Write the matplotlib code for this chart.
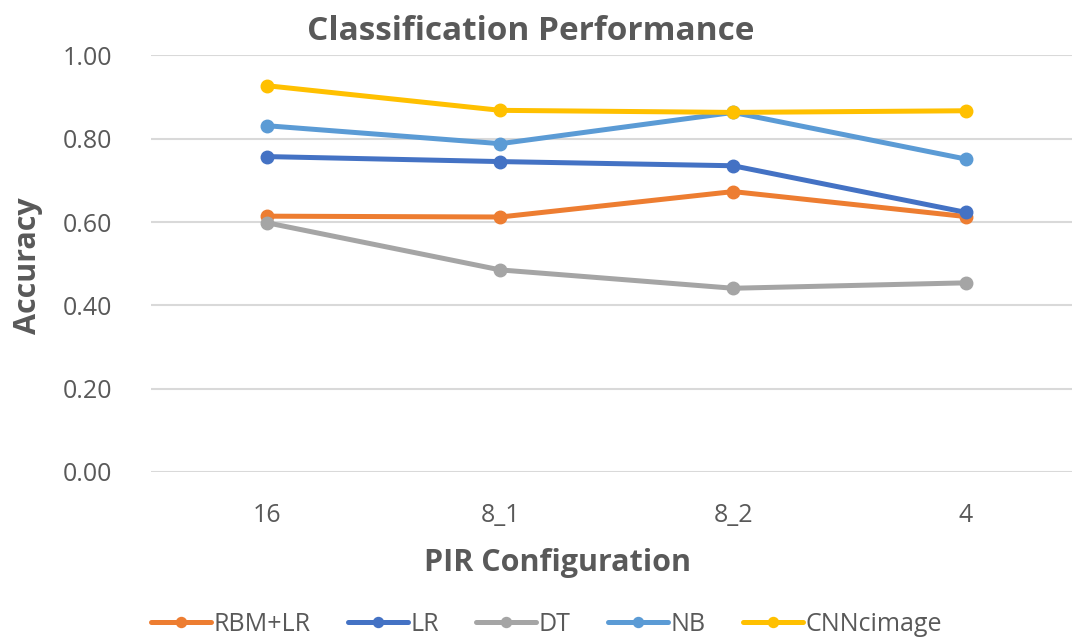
import numpy as np
import matplotlib.pyplot as plt

plt.rcParams['font.family'] = ['Open Sans', 'DejaVu Sans']

configs = ['16', '8_1', '8_2', '4']
rbm_lr = [0.614, 0.612, 0.673, 0.613]
lr = [0.757, 0.745, 0.735, 0.623]
dt = [0.598, 0.485, 0.441, 0.454]
nb = [0.831, 0.788, 0.863, 0.751]
cnn = [0.927, 0.868, 0.863, 0.867]

series = [('RBM+LR', rbm_lr, '#ED7D31'),
          ('LR', lr, '#4472C4'),
          ('DT', dt, '#A5A5A5'),
          ('NB', nb, '#5B9BD5'),
          ('CNNcimage', cnn, '#FFC000')]

txt = '#595959'

fig = plt.figure(figsize=(10.72, 6.42), dpi=100)
ax = fig.add_axes([151 / 1072, 0.2648, 1 - 151 / 1072, 0.649])

x = np.arange(len(configs))
for name, vals, cl in series:
    ax.plot(x, vals, color=cl, lw=3.6, marker='o', markersize=9, label=name,
            solid_capstyle='round')

ax.set_xlim(-0.5, 3.455)
ax.set_ylim(0, 1.0)
ax.set_yticks(np.arange(0, 1.01, 0.2))
ax.set_yticklabels(['%.2f' % v for v in np.arange(0, 1.01, 0.2)])
ax.set_xticks(x)
ax.set_xticklabels(configs)
ax.tick_params(axis='both', length=0, labelsize=18, colors=txt)
ax.tick_params(axis='y', pad=28)
ax.tick_params(axis='x', pad=22)
ax.grid(axis='y', color='#D9D9D9', lw=1.5)
ax.set_axisbelow(True)
for s in ax.spines.values():
    s.set_visible(False)

fig.text(0.495, 0.951, 'Classification Performance', ha='center', va='center',
         fontsize=24, fontweight='bold', color=txt)
fig.text(0.52, 0.123, 'PIR Configuration', ha='center', va='center',
         fontsize=22, fontweight='bold', color=txt)
fig.text(0.026, 0.587, 'Accuracy', ha='center', va='center', rotation=90,
         fontsize=22, fontweight='bold', color=txt)

fig.legend(loc='center', bbox_to_anchor=(0.51, 0.027), ncol=5, frameon=False,
           fontsize=18, labelcolor=txt, handlelength=2.4, handletextpad=0.1,
           columnspacing=1.5, markerscale=0.8)

plt.savefig('out.png')
